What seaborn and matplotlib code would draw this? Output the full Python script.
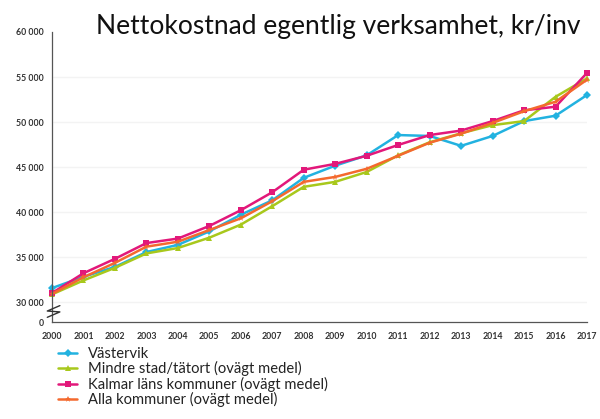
import pandas as pd
import numpy as np
import matplotlib
matplotlib.use('Agg')
import matplotlib.pyplot as plt
import seaborn as sns

# Données (kr/inv)
annees = list(range(2000, 2018))

vastervik = [31550, 32800, 33900, 35550, 36350, 37850, 39700, 41300, 43800,
             45150, 46300, 48550, 48450, 47350, 48450, 50100, 50700, 53000]
mindre_stad = [30850, 32400, 33800, 35400, 36000, 37150, 38600, 40650, 42800,
               43350, 44450, 46300, 47750, 48750, 49650, 50100, 52800, 54850]
kalmar = [31000, 33200, 34800, 36550, 37050, 38450, 40200, 42200, 44700,
          45350, 46250, 47450, 48550, 49050, 50100, 51300, 51700, 55450]
alla = [30900, 32750, 34350, 36150, 36700, 38000, 39300, 41200, 43350,
        43900, 44800, 46250, 47700, 48700, 49900, 51200, 52250, 54700]

serier = ['Västervik', 'Mindre stad/tätort (ovägt medel)',
          'Kalmar läns kommuner (ovägt medel)', 'Alla kommuner (ovägt medel)']
couleurs = ['#22b2e0', '#a8c81c', '#e2187a', '#f4692e']
marqueurs = ['D', '^', 's', '*']

y_ticks = [30000, 35000, 40000, 45000, 50000, 55000, 60000]
y_bas = 27780  # position du "0" (axe coupé)

df = pd.DataFrame({
    'annee': annees * 4,
    'valeur': vastervik + mindre_stad + kalmar + alla,
    'serie': sum([[s] * len(annees) for s in serier], []),
})

sns.set_style('white')
plt.rcParams['font.family'] = ['Lato', 'DejaVu Sans']

fig = plt.figure(figsize=(6.0, 4.19), dpi=100)
ax = fig.add_axes([52 / 600, (419 - 322) / 419, (587 - 52) / 600, (322 - 32) / 419])

sns.lineplot(data=df, x='annee', y='valeur', hue='serie', style='serie',
             hue_order=serier, style_order=serier, palette=couleurs,
             markers=marqueurs, dashes=False, markersize=4.5, linewidth=1.8,
             markeredgewidth=0, ax=ax, legend=True, clip_on=False)

ax.set_xlim(2000, 2017)
ax.set_ylim(y_bas, 60000)
ax.set_xticks(annees)
ax.set_xticklabels([str(a) for a in annees], fontsize=6.3, fontweight='bold', color='#333333')
ax.set_yticks([y_bas] + y_ticks)
ax.set_yticklabels(['0'] + [f'{v:,}'.replace(',', ' ') for v in y_ticks],
                   fontsize=6.3, fontweight='bold', color='#333333')
ax.tick_params(axis='both', length=3, width=0.8, color='#555555', pad=3, direction='out')
ax.tick_params(axis='x', pad=4)
ax.set_xlabel('')
ax.set_ylabel('')
for s in ['top', 'right']:
    ax.spines[s].set_visible(False)
for s in ['left', 'bottom']:
    ax.spines[s].set_color('#555555')
    ax.spines[s].set_linewidth(0.9)

# Lignes de grille très claires
for v in y_ticks[:-1]:
    ax.axhline(v, color='#f3f3f3', linewidth=1.0, zorder=0)

# Marque de coupure de l'axe
ax.plot([2000.25, 1999.85, 2000.25, 1999.85], [29600, 29000, 28900, 28300],
        color='#333333', linewidth=1.0, clip_on=False, zorder=5)

fig.text(0.16, 0.918, 'Nettokostnad egentlig verksamhet, kr/inv',
         fontsize=19, color='#111111')

handles, labels = ax.get_legend_handles_labels()
ax.get_legend().remove()
fig.legend(handles, labels, loc='lower left', bbox_to_anchor=(0.08, 0.004),
           frameon=False, fontsize=10.6, handlelength=1.3, labelspacing=0.02,
           handletextpad=0.7, borderpad=0.2, labelcolor='#222222')

fig.savefig('out.png', dpi=100)
